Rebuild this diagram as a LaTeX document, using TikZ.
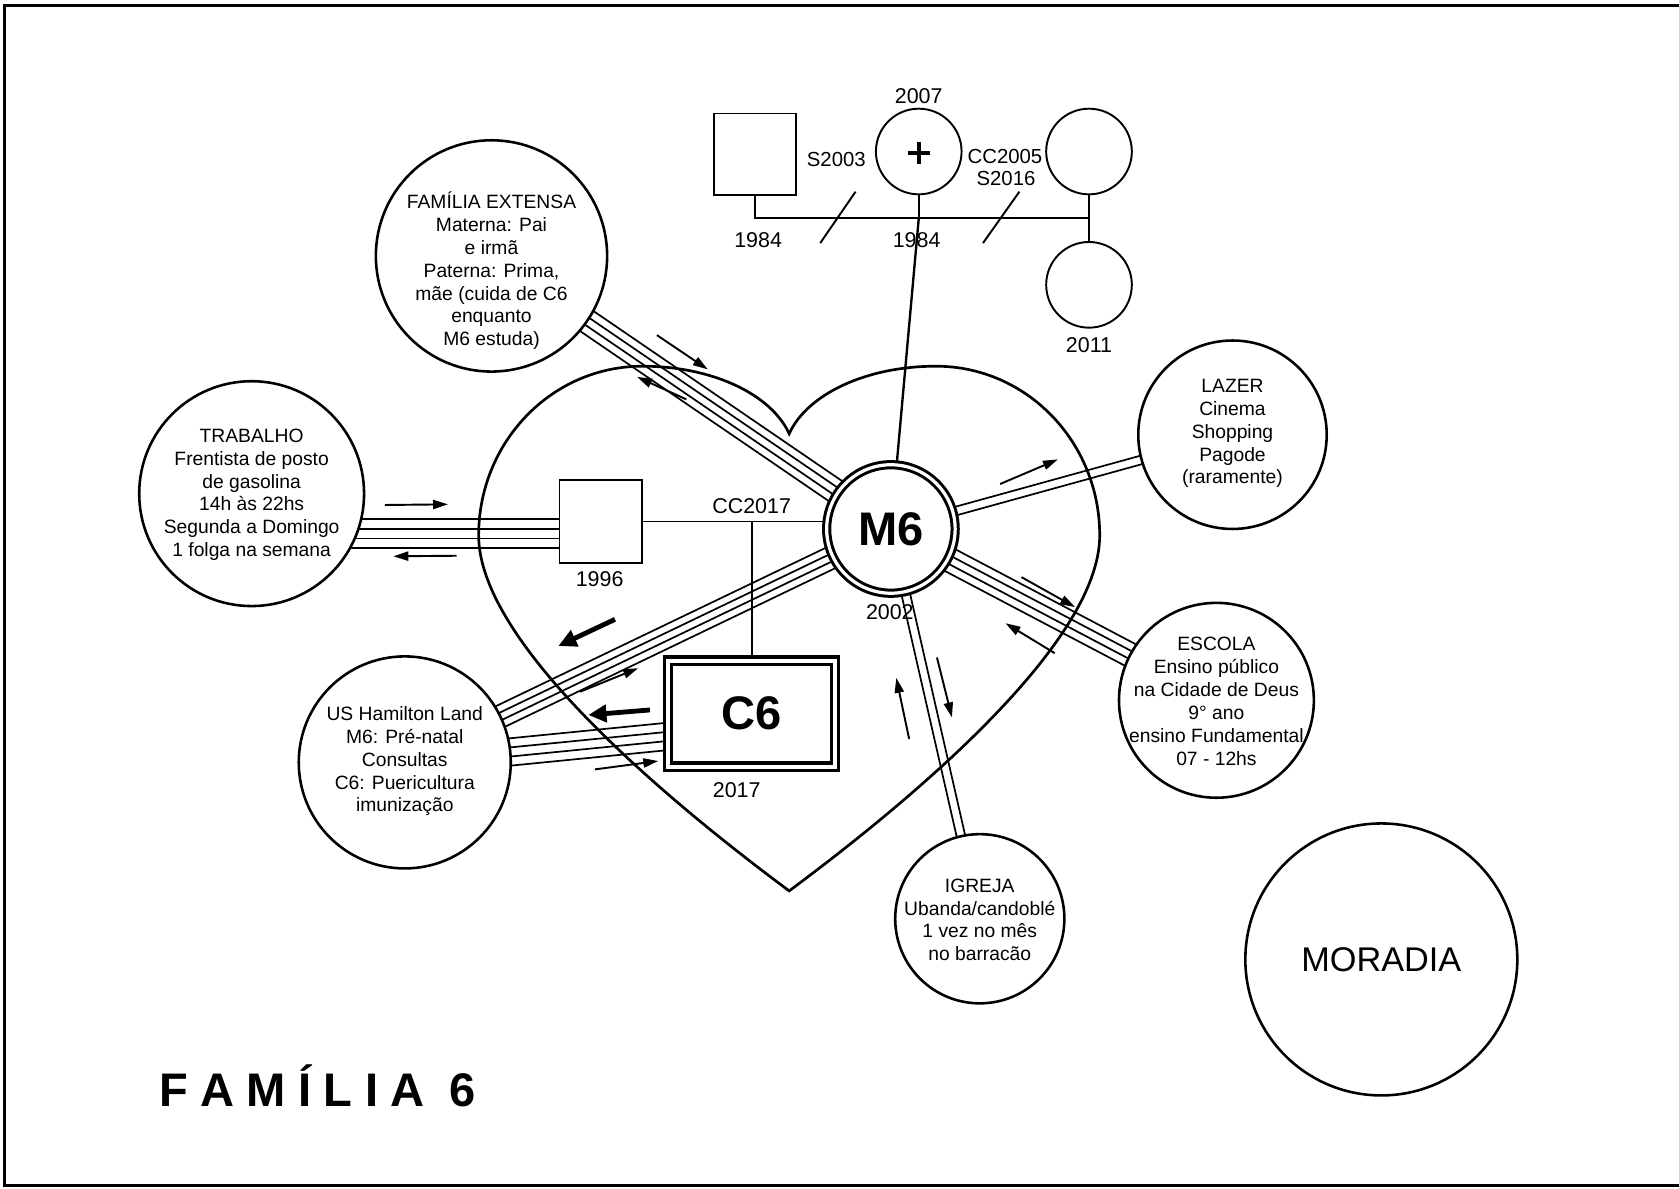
\documentclass[tikz,border=0pt]{standalone}
\usepackage{fontspec}
\setmainfont{Liberation Sans}
\usetikzlibrary{calc,arrows.meta}
\pgfdeclarelayer{back}
\pgfsetlayers{back,main}
% parallel tie lines between two points, offsets given as a list of lengths
\newcommand\tiebundle[3]{%
  \foreach \ofs in {#3}
    \draw[tie] ($(#1)!\ofs!90:(#2)$) -- ($(#2)!\ofs!-90:(#1)$);}

\begin{document}
\begin{tikzpicture}[x=1pt,y=-1pt,
  every node/.style={inner sep=0pt,outer sep=0pt},
  sat/.style={circle,draw,line width=2.4pt,fill=white},
  txt/.style={align=center,font=\fontsize{18}{21.3}\selectfont},
  yr/.style={font=\fontsize{20}{24}\selectfont},
  rel/.style={font=\fontsize{19}{21}\selectfont},
  gline/.style={line width=1.8pt},
  tie/.style={line width=1.6pt},
  flow/.style={line width=1.8pt,-{Triangle[length=14pt,width=8.5pt]}},
  bigflow/.style={line width=4.5pt,-{Triangle[length=17pt,width=16pt]}},
  big/.style={font=\fontsize{44}{44}\selectfont\bfseries},
]
\useasboundingbox (0,0) rectangle (1568,1110);

% frame
\draw[line width=3pt] (1568,5.5) -- (4,5.5) -- (4,1107) -- (1568,1107);

% ---- family of origin ----
\node[rectangle,draw,gline,minimum width=77pt,minimum height=76pt] (fa) at (705,144) {};
\node[circle,draw,gline,minimum size=80pt] (mo) at (858,141.5) {};
\node[circle,draw,gline,minimum size=80pt] (st) at (1017,141.5) {};
\node[circle,draw,gline,minimum size=80pt] (sis) at (1017,266) {};
\coordinate (mline) at (705,204);
\draw[gline] (fa.south) -- (mline) -- (mline -| st.center);
\draw[gline] (st.south) -- (sis.north);
\draw[gline] (mo.south) -- (mo.south |- mline);
% deceased mark
\draw[line width=3.6pt] ($(mo)+(-10.5,1.5)$) -- ($(mo)+(10.5,1.5)$)
                        ($(mo)+(0,-8.5)$) -- ($(mo)+(0,11.5)$);
% separation marks
\draw[gline] (766,227) -- (799,179);
\draw[gline] (918,227) -- (952,179);

\node[yr] (y2007) at (858,90) {2007};
\node[rel] (s2003) at (781,148.5) {S2003};
\node[rel] (cc2005) at (938.5,146) {CC2005};
\node[rel] (s2016) at (939.5,166.5) {S2016};
\node[yr] (y1984a) at (708,224) {1984};
\node[yr] (y1984b) at (856,224) {1984};
\node[yr] (y2011) at (1017,322) {2011};

% ---- household ----
\node[circle,draw,double,double distance=3pt,line width=2.8pt,fill=white,
      minimum size=120pt,big] (m6) at (832,494) {M6};
\node[yr] (y2002) at (831,572) {2002};

\node[rectangle,draw,line width=1.8pt,fill=white,minimum size=77pt] (pa) at (561,487) {};
\node[yr] (y1996) at (560,541) {1996};

\node[rectangle,draw,double,double distance=3.8pt,line width=3pt,fill=white,
      minimum width=156pt,minimum height=99pt,big] (c6) at (702,666.5) {C6};
\node[yr] (y2017) at (688,738) {2017};
\node[yr] (cc2017) at (702,473) {CC2017};

% ---- surrounding systems ----
\node[sat,minimum size=216pt] (fam) at (459,239) {};
\node[txt] at (459,253) {FAMÍLIA EXTENSA\\Materna: Pai\\e irmã\\Paterna: Prima,\\mãe (cuida de C6\\enquanto\\M6 estuda)};

\node[sat,minimum size=210pt] (trab) at (235,461) {};
\node[txt] at (235,462) {TRABALHO\\Frentista de posto\\de gasolina\\14h às 22hs\\Segunda a Domingo\\1 folga na semana};

\node[sat,minimum size=198pt] (ham) at (378,712) {};
\node[txt] at (378,711) {US Hamilton Land\\M6: Pré-natal\\Consultas\\C6: Puericultura\\imunização};

\node[sat,minimum size=176pt] (laz) at (1151,406) {};
\node[txt] at (1151,405) {LAZER\\Cinema\\Shopping\\Pagode\\(raramente)};

\node[sat,minimum size=182pt] (esc) at (1136,654) {};
\node[txt] at (1136,655) {ESCOLA\\Ensino público\\na Cidade de Deus\\9° ano\\ensino Fundamental\\07 - 12hs};

\node[sat,minimum size=158pt] (igr) at (915,858) {};
\node[txt] at (915,859) {IGREJA\\Ubanda/candoblé\\1 vez no mês\\no barracão};

\node[sat,minimum size=254pt] (mor) at (1290,896) {};
\node[font=\fontsize{32}{32}\selectfont] at (1290,896) {MORADIA};

\node[anchor=base west,font=\fontsize{44}{44}\selectfont\bfseries] (title) at (149,1033.5)
  {F\kern11.5pt A\kern11.5pt M\kern11.5pt Í\kern11.5pt L\kern11.5pt I\kern11.5pt A\kern11.5pt\ 6};

% ---- lines behind the nodes ----
\begin{pgfonlayer}{back}
  % heart
  \draw[line width=2.5pt] (737,405) .. controls (720,368) and (665,342) .. (600,342)
    .. controls (515,342) and (447,413) .. (447,500)
    .. controls (447,600) and (620,745) .. (737,832)
    .. controls (854,745) and (1027,600) .. (1027,500)
    .. controls (1027,413) and (959,342) .. (874,342)
    .. controls (809,342) and (754,368) .. (737,405) -- cycle;
  % filiation to the mother
  \draw[line width=2.2pt] (mo.south |- mline) -- (m6.center);
  % union and child
  \draw[gline] (pa.center) -- (pa.center -| m6.center);
  \draw[gline] (c6.north |- pa.center) -- (c6.center);
  % ties
  \tiebundle{fam}{m6}{-11.25pt,-3.75pt,3.75pt,11.25pt}
  \tiebundle{ham}{m6}{-10.5pt,-3.5pt,3.5pt,10.5pt}
  \coordinate (c6in) at ($(c6.west)+(12,20)$);
  \tiebundle{ham}{c6in}{-12.75pt,-4.25pt,4.25pt,12.75pt}
  \tiebundle{m6}{laz}{-4pt,4pt}
  \tiebundle{m6}{esc}{-11.25pt,-3.75pt,3.75pt,11.25pt}
  \tiebundle{m6}{igr}{-4pt,4pt}
  \coordinate (tb) at ($(pa.west)+(0,11.5)$);
  \foreach \ofs in {-13.5,-4.5,4.5,13.5}
    \draw[tie] ($(trab.center |- tb)+(0,\ofs)$) -- ($(tb)+(0,\ofs)$);
\end{pgfonlayer}

% ---- flow arrows ----
\draw[flow] (613.5,313) -- (661,345);
\draw[flow] (641,373) -- (595,352);
\draw[flow] (359.5,471.6) -- (418.4,471);
\draw[flow] (426.5,519) -- (367.3,519.5);
\draw[bigflow] (574.3,578.4) -- (521.4,603.3);
\draw[flow] (541.7,646) -- (596,624);
\draw[bigflow] (607,663) -- (549.4,667.7);
\draw[flow] (555.7,718.5) -- (614.8,710.7);
\draw[flow] (934,452) -- (988,429);
\draw[flow] (954,539) -- (1004,567);
\draw[flow] (985,610) -- (939,582);
\draw[flow] (875,614) -- (889,670);
\draw[flow] (849,690) -- (837,633);
\end{tikzpicture}
\end{document}
